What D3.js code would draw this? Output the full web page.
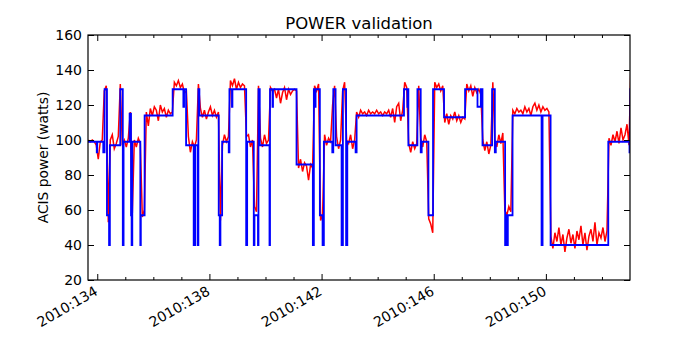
<!DOCTYPE html>
<html>
<head>
<meta charset="utf-8">
<script src="https://cdn.jsdelivr.net/npm/d3@7"></script>
<style>
  body { margin: 0; background: #fff; }
  svg { font-family: "DejaVu Sans", sans-serif; display: block; }
</style>
</head>
<body>
<svg width="700" height="350"></svg>
<script>
var title = 'POWER validation';
var yLabel = 'ACIS power (watts)';
var yTicks = [20, 40, 60, 80, 100, 120, 140, 160];
var xTicks = [134, 138, 142, 146, 150];
var xTickLabels = ['2010:134', '2010:138', '2010:142', '2010:146', '2010:150'];
var xMinorTicks = [135, 136, 137, 139, 140, 141, 143, 144, 145, 147, 148, 149, 151, 152];

// model (blue) -- step function, day of year / watts
var modelTime = [133.67, 133.982, 134.0, 134.214, 134.261, 134.346, 134.421, 134.45, 134.821, 134.911,
  134.939, 135.154, 135.204, 135.225, 135.25, 135.536, 135.554, 135.689, 136.689, 137.071,
  137.096, 137.168, 137.439, 137.464, 137.5, 137.589, 137.607, 137.643, 138.332, 138.368,
  138.393, 138.454, 138.689, 138.714, 138.804, 138.821, 139.311, 139.346, 139.582, 139.607,
  139.732, 139.75, 139.796, 140.143, 140.161, 140.25, 140.268, 141.107, 141.689, 141.725,
  141.761, 141.786, 141.939, 142.036, 142.082, 142.382, 142.418, 142.5, 142.714, 142.761,
  142.875, 142.918, 143.214, 143.25, 144.939, 145.061, 145.082, 145.096, 145.418, 145.536,
  145.571, 145.811, 145.975, 146.368, 147.118, 147.561, 147.679, 147.739, 148.082, 148.179,
  148.214, 148.546, 148.582, 148.607, 148.643, 148.811, 149.846, 149.882, 150.168, 152.225,
  152.982, 153.011, 153.1];
var modelPower = [99, 93, 99, 93, 129, 57, 40, 97, 129, 40,
  99, 115, 57, 40, 99, 40, 57, 114, 129, 119,
  129, 97, 40, 40, 97, 40, 129, 114, 57, 40,
  57, 99, 93, 129, 119, 129, 40, 99, 40, 57,
  40, 129, 97, 40, 129, 119, 129, 86, 40, 129,
  119, 129, 57, 40, 99, 93, 129, 97, 40, 129,
  40, 99, 93, 114, 129, 119, 129, 97, 129, 93,
  99, 57, 129, 113, 129, 119, 129, 97, 129, 93,
  99, 40, 57, 40, 57, 114, 40, 114, 40, 99,
  93, 129, 129];

// telemetry (red) -- regular samples starting at telemStart, every telemStep days
var telemStart = 133.679;
var telemStep = 1 / 14;
var telemPower = [
  100, 99, 100, 99, 97, 89, 99, 100, 128, 131,
  53, 100, 103, 95, 98, 102, 132, 97, 100, 96,
  101, 116, 58, 100, 96, 101, 98, 56, 60, 116,
  108, 118, 114, 119, 117, 111, 120, 116, 118, 113,
  117, 115, 116, 133, 131, 134, 130, 132, 127, 128,
  102, 93, 99, 96, 100, 132, 118, 113, 117, 112,
  116, 119, 114, 117, 113, 116, 54, 97, 103, 99,
  102, 134, 131, 135, 129, 133, 130, 132, 131, 102,
  103, 96, 100, 62, 59, 131, 101, 96, 103, 98,
  100, 130, 128, 129, 124, 129, 121, 127, 130, 123,
  129, 126, 128, 129, 128, 84, 89, 82, 87, 85,
  77, 86, 84, 131, 128, 132, 54, 57, 103, 97,
  101, 99, 120, 131, 102, 95, 100, 128, 133, 100,
  98, 103, 95, 100, 116, 113, 117, 115, 116, 114,
  117, 115, 116, 115, 117, 115, 116, 114, 116, 115,
  117, 113, 118, 110, 119, 121, 111, 117, 133, 130,
  98, 93, 99, 95, 98, 131, 101, 96, 103, 99,
  55, 52, 47, 133, 130, 132, 128, 131, 110, 115,
  109, 114, 112, 116, 111, 114, 110, 113, 112, 132,
  128, 131, 125, 130, 127, 129, 126, 100, 94, 99,
  92, 97, 133, 100, 96, 103, 98, 104, 60, 57,
  62, 59, 117, 115, 118, 116, 117, 115, 119, 116,
  118, 114, 119, 121, 117, 120, 116, 119, 117, 118,
  116, 45, 38, 47, 42, 50, 40, 46, 36, 44,
  49, 41, 46, 38, 48, 43, 51, 40, 47, 37,
  45, 49, 42, 53, 40, 47, 44, 50, 42, 48,
  101, 97, 103, 99, 105, 98, 107, 100, 103, 109,
  97, 145];

var svg = d3.select('svg');
var plotLeft = 88, plotRight = 630, plotTop = 35, plotBottom = 280;

var x = d3.scaleLinear().domain([133.67, 153.0]).range([plotLeft, plotRight]);
var y = d3.scaleLinear().domain([20, 160]).range([plotBottom, plotTop]);

svg.append('rect').attr('width', 700).attr('height', 350).attr('fill', '#fff');

svg.append('clipPath').attr('id', 'plotclip')
  .append('rect').attr('x', plotLeft).attr('y', plotTop)
  .attr('width', plotRight - plotLeft).attr('height', plotBottom - plotTop);

var plot = svg.append('g').attr('clip-path', 'url(#plotclip)');

var telem = telemPower.map(function(v, i){ return [telemStart + i * telemStep, v]; });
var model = modelTime.map(function(t, i){ return [t, modelPower[i]]; });

plot.append('path')
  .datum(telem)
  .attr('fill', 'none')
  .attr('stroke', '#ff0000')
  .attr('stroke-width', 1.5)
  .attr('d', d3.line().x(function(d){ return x(d[0]); }).y(function(d){ return y(d[1]); }));

plot.append('path')
  .datum(model)
  .attr('fill', 'none')
  .attr('stroke', '#0000ff')
  .attr('stroke-width', 1.8)
  .attr('d', d3.line().curve(d3.curveStepAfter)
    .x(function(d){ return x(d[0]); }).y(function(d){ return y(d[1]); }));

// ticks point inward on all four sides
function ticks(g){
  g.select('.domain').remove();
  g.selectAll('line').attr('stroke', '#000').attr('stroke-width', 1);
}

svg.append('g').attr('transform', 'translate(0,' + plotBottom + ')')
  .call(d3.axisBottom(x).tickValues(xMinorTicks).tickSize(-3).tickFormat(''))
  .call(ticks);
svg.append('g').attr('transform', 'translate(0,' + plotTop + ')')
  .call(d3.axisTop(x).tickValues(xMinorTicks).tickSize(-3).tickFormat(''))
  .call(ticks);
svg.append('g').attr('transform', 'translate(0,' + plotTop + ')')
  .call(d3.axisTop(x).tickValues(xTicks).tickSize(-6).tickFormat(''))
  .call(ticks);
svg.append('g').attr('transform', 'translate(' + plotRight + ',0)')
  .call(d3.axisRight(y).tickValues(yTicks).tickSize(-6).tickFormat(''))
  .call(ticks);

var xAxis = svg.append('g').attr('transform', 'translate(0,' + plotBottom + ')')
  .call(d3.axisBottom(x).tickValues(xTicks).tickSize(-6)
    .tickFormat(function(d, i){ return xTickLabels[i]; }))
  .call(ticks);
xAxis.selectAll('text')
  .attr('font-family', '"DejaVu Sans", sans-serif')
  .attr('font-size', 14)
  .attr('fill', '#000')
  .attr('text-anchor', 'end')
  .attr('x', 0).attr('y', 0).attr('dy', null)
  .attr('transform', 'translate(1,14) rotate(-30)');

var yAxis = svg.append('g').attr('transform', 'translate(' + plotLeft + ',0)')
  .call(d3.axisLeft(y).tickValues(yTicks).tickSize(-6).tickPadding(6))
  .call(ticks);
yAxis.selectAll('text')
  .attr('font-family', '"DejaVu Sans", sans-serif')
  .attr('font-size', 14)
  .attr('fill', '#000');

svg.append('rect')
  .attr('x', plotLeft).attr('y', plotTop)
  .attr('width', plotRight - plotLeft).attr('height', plotBottom - plotTop)
  .attr('fill', 'none').attr('stroke', '#000').attr('stroke-width', 1.2);

svg.append('text')
  .attr('x', (plotLeft + plotRight) / 2).attr('y', 29)
  .attr('text-anchor', 'middle')
  .attr('font-size', 16.5)
  .text(title);

svg.append('text')
  .attr('transform', 'translate(48,' + (plotTop + plotBottom) / 2 + ') rotate(-90)')
  .attr('text-anchor', 'middle')
  .attr('font-size', 13.8)
  .text(yLabel);
</script>
</body>
</html>
